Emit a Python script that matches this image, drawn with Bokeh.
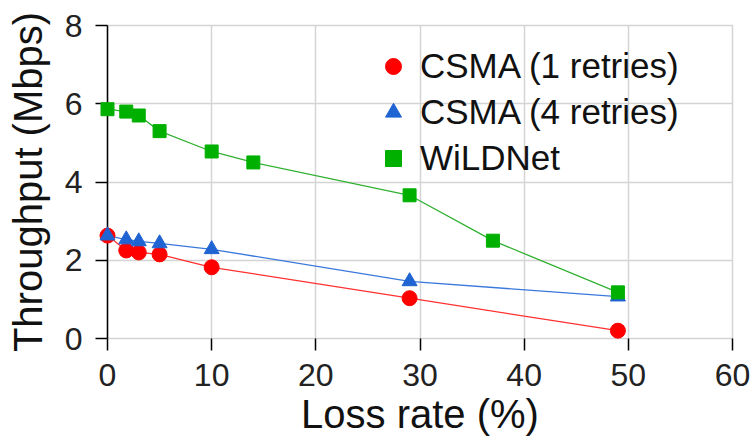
from bokeh.plotting import figure
from bokeh.models import FixedTicker, Legend, LegendItem, Range1d
from bokeh.embed import file_html
from bokeh.resources import INLINE

# Loss rate (%) for each measured point
loss_rate = [0, 1.8, 3, 5, 10, 29, 49]
wildnet_loss = [0, 1.8, 3, 5, 10, 14, 29, 37, 49]

# Throughput (Mbps)
csma_1_retries = [2.63, 2.25, 2.2, 2.15, 1.82, 1.03, 0.2]
csma_4_retries = [2.63, 2.53, 2.48, 2.43, 2.28, 1.46, 1.07]
wildnet = [5.86, 5.8, 5.7, 5.3, 4.78, 4.5, 3.66, 2.5, 1.18]

x_ticks = [0, 10, 20, 30, 40, 50, 60]
y_ticks = [0, 2, 4, 6, 8]

FONT = "Liberation Sans"
GRID = "#d4d4d4"

p = figure(
    width=753, height=439,
    output_backend="svg", toolbar_location=None,
    x_range=Range1d(0, 60), y_range=Range1d(0, 8),
    min_border_left=107, min_border_right=21,
    min_border_top=25, min_border_bottom=101,
    background_fill_color="white", border_fill_color="white",
)
p.outline_line_color = GRID
p.outline_line_width = 1.5

# grid
p.xgrid.ticker = FixedTicker(ticks=x_ticks)
p.ygrid.ticker = FixedTicker(ticks=y_ticks)
for g in (p.xgrid, p.ygrid):
    g.grid_line_color = GRID
    g.grid_line_width = 1.5

# axes
p.xaxis.ticker = FixedTicker(ticks=x_ticks)
p.yaxis.ticker = FixedTicker(ticks=y_ticks)
for ax in (p.xaxis, p.yaxis):
    ax.major_tick_out = 12
    ax.major_tick_in = 0
    ax.minor_tick_line_color = None
    ax.major_tick_line_color = "black"
    ax.major_tick_line_width = 1.5
    ax.major_label_text_font = FONT
    ax.major_label_text_font_size = "32px"
    ax.major_label_text_color = "#222222"
    ax.axis_label_text_font = FONT
    ax.axis_label_text_font_size = "40px"
    ax.axis_label_text_font_style = "normal"
    ax.axis_label_text_color = "#111111"

p.xaxis.axis_label = "Loss rate (%)"
p.xaxis.axis_line_color = None
p.xaxis.major_label_standoff = 13
p.xaxis.axis_label_standoff = 3

p.yaxis.axis_label = "Throughput (Mbps)"
p.yaxis.axis_line_color = "black"
p.yaxis.axis_line_width = 1.5
p.yaxis.major_label_standoff = 13
p.yaxis.axis_label_standoff = 12

# series: connecting lines plus markers
p.line(loss_rate, csma_1_retries, line_color="#ff3030", line_width=1.3)
r1 = p.scatter(loss_rate, csma_1_retries, marker="circle", size=15,
               fill_color="#ff0000", line_color="#ff0000", level="overlay")

p.line(loss_rate, csma_4_retries, line_color="#3a78dc", line_width=1.3)
r4 = p.scatter(loss_rate, csma_4_retries, marker="triangle", size=15,
               fill_color="#1f64d2", line_color="#1f64d2", level="overlay")

p.line(wildnet_loss, wildnet, line_color="#30b030", line_width=1.3)
rw = p.scatter(wildnet_loss, wildnet, marker="square", size=13,
               fill_color="#00b000", line_color="#00b000", level="overlay")

legend = Legend(
    items=[
        LegendItem(label="CSMA (1 retries)", renderers=[r1]),
        LegendItem(label="CSMA (4 retries)", renderers=[r4]),
        LegendItem(label="WiLDNet", renderers=[rw]),
    ],
    location=(256, 150),
    background_fill_alpha=0, border_line_alpha=0,
    label_text_font=FONT, label_text_font_size="35px",
    label_text_color="#111111",
    glyph_width=40, glyph_height=40, label_standoff=7,
    spacing=6, padding=10, margin=0,
)
p.add_layout(legend, "center")

open("out.html", "w").write(file_html(p, INLINE))
